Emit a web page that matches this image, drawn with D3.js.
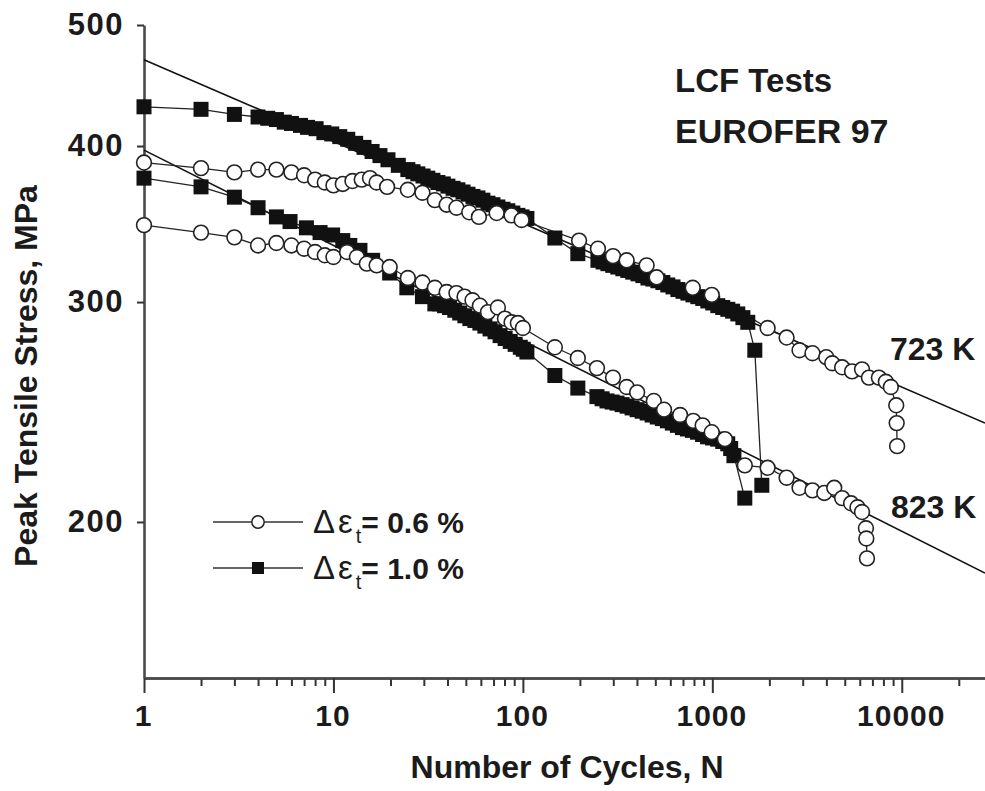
<!DOCTYPE html>
<html>
<head>
<meta charset="utf-8">
<style>
body { margin:0; background:#fff; }
text { font-family:"Liberation Sans", Arial, Helvetica, sans-serif; fill:#1b1b1b; }
</style>
</head>
<body>
<script src="https://d3js.org/d3.v7.min.js"></script>
<svg width="985" height="791"></svg>
<script>
// [cycles N, peak tensile stress MPa]
const s723_10 = [[1,430],[2,428],[3,424],[4,422],[4.5,421],[5,420],[5.5,418],[6,417],[6.7,415.5],[7.3,414],[8.1,413],[8.9,410],[9.8,409],[10.8,407],[11.9,405],[13.1,402],[14.5,399],[16,396],[17.6,393],[19.4,390],
  [22,386],[24.7,383],[26.3,381.5],[27.9,380],[29.7,378.5],[31.5,377],[33.5,375.5],[35.6,374],[38,373],[40.2,371.5],[42.8,370],[45.4,369],[48.3,367.5],[51.3,366],[54.5,364.5],[57.9,363.5],[61.5,362],[65.4,360],[69.5,359],[73.8,357.5],[78.5,356],[83.3,355],[88.5,353.5],[94.1,352],[99,351],[105,350],
  [147.5,337.6],[195,328],[249,324],[265,323],[281,322],[298,321],[317,320],[337,319],[358,318],[380,317],[405,316],[430,315],[457,313.6],[485,313],[516,312],[548,311],[582,309.6],[620,308.5],[658,307],[700,306],[743,305],[790,304],[838,303],[890,302],[947,300.6],[1005,299.5],[1069,298],[1135,297],[1207,296],[1280,295],[1363,293.5],[1450,291.5],[1539,289],[1676,274.5],[1825,214]]
const s723_06 = [[1,388],[2,384],[3,381],[4,383],[5,383],[6,381],[7,379],[8,376],[9,374],[10,372],[11.2,373],[12.6,375],[14.1,376],[15.6,377],[16.9,374],[19.2,371],
  [24.7,369],[29.5,367],[34.3,362],[39.6,359],[44.6,357],[52.1,354],[58.6,351],[72.7,353.5],[87.1,352],[98.5,349],
  [198,336],[249,331],[299,326.5],[353,324],[450,321],[508,314],[788,308],[993,304],[1958,286],[2466,281],[2886,274.5],[3377,273],[3996,271],[4296,268],[4845,266],[5466,264],[6168,265],[6708,261],[7570,261],[8240,259],[8756,256.5],[9350,248],[9400,240],[9450,230]]
const s823_10 = [[1,377],[2,371],[3,364],[4,357],[5,351],[5.9,348],[7.2,344],[8.5,341],[9.9,339.5],[11.2,336],[12.2,333],[13.8,330],[16.1,324],[19.8,316.5],[24.4,308],[29.5,303],[34.3,299],
  [36.3,299],[38.6,298],[41,297],[43.7,295.5],[46.4,294],[49.4,292.5],[52.5,291],[55.8,290],[59.3,288.6],[63,287],[67.1,285.5],[71.3,284],[75.8,282],[80.6,280.5],[85.7,279],[91,277.5],[96.9,276],[100.5,275],[105,273.6],
  [147.5,262],[195,256],[246,252],[262,251],[278,250],[296,249.5],[314,249],[334,248.3],[355,247.6],[377,246.8],[401,246],[426,245.3],[453,244.5],[481,243.6],[512,242.7],[545,242],[579,241],[615,240],[654,239],[695,238],[739,237.4],[785,236.8],[835,236],[888,235],[944,234],[1003,233.5],[1067,233],[1135,232],[1206,231],[1250,229],[1300,226],[1484,209]]
const s823_06 = [[1,345.7],[2,341],[3,338],[4,333],[5,334.5],[6,333],[7,331],[8,329],[9,327],[10,326],[11.8,329],[13.3,326],[15,322],[16.9,321],[19.8,320],
  [24.7,313.6],[29.5,311],[34.3,308],[39.6,305.6],[44.6,305],[49.2,303],[54.2,301],[59.3,298],[65.4,294.5],[73.8,297],[80.4,291],[87.1,289],[94.1,288.6],[100,286],
  [147.5,276],[195,270.6],[246,265.6],[299,261],[353,256.5],[401,254],[491,250],[556,246],[676,243.6],[793,241],[889,239],[993,236],[1165,233],[1484,222],
  [1958,221],[2466,217],[2886,213],[3377,212],[3900,211],[4400,213],[4845,209],[5400,207],[5840,205.5],[6168,203.7],[6470,197.7],[6500,194],[6550,187]]

// power-law fit lines, end points
const fit723 = [[1,469],[27500,240]]
const fit823 = [[1,397],[27500,182]]

const xMajor = [1,10,100,1000,10000]
const yTicks = [200,300,400,500]
const legendLabels = ["= 0.6 %","= 1.0 %"]
const tempLabels = ["723 K","823 K"]

const svg = d3.select("svg")
const x = d3.scaleLog().domain([1,27500]).range([144,985])
const y = d3.scaleLog().domain([150,500]).range([678,25])

const xMinor = []
xMajor.forEach(d => { for (let k = 2; k < 10; k++) if (d*k < 27500) xMinor.push(d*k) })

// axes
svg.append("g").attr("transform","translate(0,678)")
  .call(d3.axisBottom(x).tickValues(xMinor).tickSize(8).tickSizeOuter(0).tickFormat(""))
const gx = svg.append("g").attr("transform","translate(0,678)")
  .call(d3.axisBottom(x).tickValues(xMajor).tickSize(15).tickSizeOuter(0).tickPadding(12).tickFormat(d3.format("d")))
const gy = svg.append("g").attr("transform","translate(144,0)")
  .call(d3.axisLeft(y).tickValues(yTicks).tickSize(7).tickSizeOuter(0).tickPadding(14).tickFormat(d3.format("d")))

svg.selectAll(".domain").attr("stroke","#4a4a4a").attr("stroke-width",2.6)
svg.selectAll(".tick line").attr("stroke","#333").attr("stroke-width",2)
svg.selectAll(".tick text").attr("font-weight","bold")
  .attr("font-family","'Liberation Sans', Arial, sans-serif").attr("fill","#1b1b1b")
gx.selectAll(".tick text").attr("font-size",30).attr("letter-spacing",1).attr("dx",-1)
gy.selectAll(".tick text").attr("font-size",31).attr("letter-spacing",1.5).attr("dx",1)

// axis titles
svg.append("text").attr("x",567).attr("y",778).attr("text-anchor","middle")
  .attr("font-size",32).attr("font-weight","bold").text("Number of Cycles, N")
svg.append("text").attr("transform","translate(37,376) rotate(-90)").attr("text-anchor","middle")
  .attr("font-size",32).attr("font-weight","bold").text("Peak Tensile Stress, MPa")

// fit lines
const line = d3.line().x(d => x(d[0])).y(d => y(d[1]))
;[fit723, fit823].forEach(f => {
  svg.append("path").attr("d",line(f)).attr("fill","none").attr("stroke","#111").attr("stroke-width",1.6)
})

// series connecting lines
;[s723_10, s823_10, s723_06, s823_06].forEach(s => {
  svg.append("path").attr("d",line(s)).attr("fill","none").attr("stroke","#222").attr("stroke-width",1.3)
})

// markers: squares then circles
;[s723_10, s823_10].forEach(s => {
  svg.append("g").selectAll("rect").data(s).enter().append("rect")
    .attr("x",d => x(d[0]) - 7.5).attr("y",d => y(d[1]) - 7.5)
    .attr("width",15).attr("height",15).attr("fill","#111")
})
;[s723_06, s823_06].forEach(s => {
  svg.append("g").selectAll("circle").data(s).enter().append("circle")
    .attr("cx",d => x(d[0])).attr("cy",d => y(d[1])).attr("r",7.4)
    .attr("fill","#fff").attr("stroke","#222").attr("stroke-width",1.6)
})

// annotations
svg.append("text").attr("x",675).attr("y",92).attr("font-size",33).attr("font-weight","bold").text("LCF Tests")
svg.append("text").attr("x",675).attr("y",143).attr("font-size",34).attr("font-weight","bold").text("EUROFER 97")
svg.append("text").attr("x",890).attr("y",360).attr("font-size",32).attr("font-weight","bold").text(tempLabels[0])
svg.append("text").attr("x",891).attr("y",518).attr("font-size",32).attr("font-weight","bold").text(tempLabels[1])

// legend
const legRows = [522, 568]
legendLabels.forEach((lab, i) => {
  const g = svg.append("g")
  const ly = legRows[i]
  g.append("line").attr("x1",213).attr("x2",303).attr("y1",ly).attr("y2",ly).attr("stroke","#333").attr("stroke-width",1.4)
  if (i == 0) g.append("circle").attr("cx",258).attr("cy",ly).attr("r",6.2).attr("fill","#fff").attr("stroke","#222").attr("stroke-width",1.5)
  else g.append("rect").attr("x",252).attr("y",ly-6).attr("width",12).attr("height",12).attr("fill","#111")
  const t = g.append("text").attr("x",313).attr("y",ly+11).attr("font-size",30)
  t.append("tspan").attr("font-size",33).attr("letter-spacing",3).text("Δε")
  t.append("tspan").attr("dy",10).attr("font-size",20).text("t")
  t.append("tspan").attr("dy",-10).attr("font-weight","bold").text(lab)
})
</script>
</body>
</html>
